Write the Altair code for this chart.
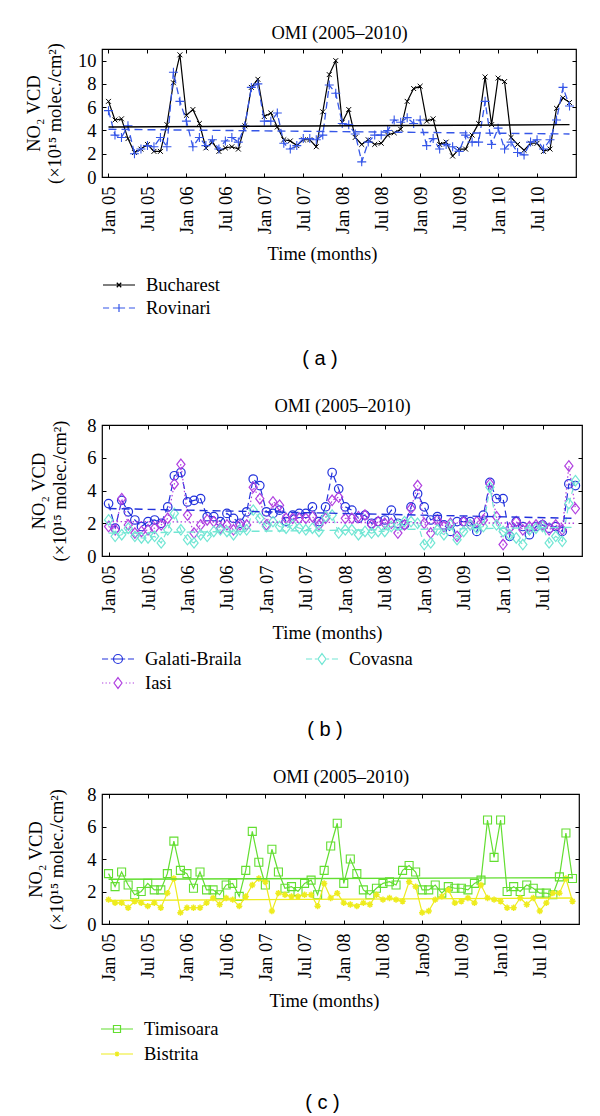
import json
import altair as alt
import pandas as pd

# ---------------- data ----------------
MONTHS = list(range(72))            # Jan 2005 ... Dec 2010
TREND_MONTHS = [0, 71]
XTICKS = [0, 6, 12, 18, 24, 30, 36, 42, 48, 54, 60, 66]
XLABELS_AB = ["Jan 05", "Jul 05", "Jan 06", "Jul 06", "Jan 07", "Jul 07",
              "Jan 08", "Jul 08", "Jan 09", "Jul 09", "Jan 10", "Jul 10"]
XLABELS_C = ["Jan 05", "Jul 05", "Jan 06", "Jul 06", "Jan 07", "Jul 07",
             "Jan 08", "Jul 08", "Jan09", "Jul 09", "Jan10", "Jul 10"]
YTICKS_A = [0, 2, 4, 6, 8, 10]
YTICKS_BC = [0, 2, 4, 6, 8]

TITLE = "OMI (2005–2010)"
XTITLE = "Time (months)"
YTITLE = ["NO₂ VCD", "(×10¹⁵ molec./cm²)"]

BUCHAREST = [6.5, 4.9, 5.0, 3.3, 2.1, 2.4, 2.8, 2.2, 2.2, 4.5, 8.1, 10.5,
             5.3, 5.8, 4.6, 2.5, 3.0, 2.2, 2.5, 2.6, 2.4, 4.4, 7.7, 8.4,
             5.2, 5.5, 4.3, 3.2, 3.1, 2.7, 3.2, 3.2, 2.6, 5.6, 8.8, 10.0,
             4.7, 5.8, 3.4, 2.8, 3.2, 2.8, 2.9, 3.6, 3.8, 4.1, 6.5, 7.6,
             7.8, 4.8, 5.0, 2.8, 3.0, 1.8, 2.4, 2.4, 3.6, 4.6, 8.6, 4.5,
             8.5, 8.2, 3.4, 2.8, 2.3, 2.9, 2.9, 2.2, 2.4, 5.9, 6.8, 6.4]
ROVINARI = [5.7, 3.6, 3.4, 4.4, 2.0, 2.4, 2.7, 2.6, 3.4, 2.6, 9.0, 6.5,
            4.8, 2.6, 3.4, 2.7, 3.2, 2.4, 3.1, 3.4, 3.0, 4.4, 7.7, 8.0,
            4.8, 4.8, 5.5, 2.9, 2.4, 2.7, 3.3, 3.3, 3.2, 3.6, 7.9, 7.2,
            4.6, 4.5, 3.7, 1.3, 3.0, 3.6, 3.6, 4.0, 4.9, 4.7, 5.1, 4.6,
            4.9, 2.7, 3.3, 2.4, 2.8, 2.6, 2.2, 3.6, 3.0, 3.0, 6.5, 2.8,
            4.2, 2.4, 3.0, 2.1, 1.9, 3.0, 3.2, 2.4, 3.2, 4.9, 7.7, 6.1]
GALATI = [3.2, 1.7, 3.4, 2.7, 2.2, 1.8, 2.1, 2.2, 2.0, 3.0, 4.9, 5.1,
          3.3, 3.4, 3.5, 2.4, 2.4, 2.1, 2.6, 2.3, 2.0, 2.7, 4.7, 4.3,
          2.7, 2.6, 2.8, 2.1, 2.5, 2.6, 2.6, 3.0, 2.1, 3.0, 5.1, 4.1,
          3.0, 2.8, 2.3, 2.5, 2.0, 2.1, 2.2, 2.8, 2.0, 1.9, 3.0, 3.8,
          3.0, 2.2, 2.4, 1.9, 1.5, 2.1, 2.1, 2.1, 1.5, 2.5, 4.5, 3.5,
          3.5, 1.2, 2.1, 1.8, 1.3, 1.8, 1.9, 1.7, 1.8, 1.5, 4.4, 4.3]
IASI = [1.8, 1.6, 3.5, 1.9, 1.4, 1.5, 1.6, 1.7, 1.9, 2.3, 4.4, 5.6,
        2.5, 1.4, 1.9, 2.2, 2.1, 1.7, 1.9, 1.6, 1.9, 1.9, 4.2, 3.5,
        1.9, 3.3, 3.1, 2.3, 2.3, 2.3, 2.3, 2.4, 1.9, 2.3, 3.4, 3.6,
        2.3, 2.3, 2.4, 2.5, 1.9, 2.1, 2.0, 2.0, 1.4, 1.9, 2.9, 4.3,
        2.0, 1.4, 2.2, 1.8, 2.0, 1.2, 2.1, 1.9, 2.1, 2.2, 4.4, 2.4,
        0.7, 1.7, 2.1, 1.6, 1.8, 1.9, 1.9, 1.6, 1.9, 1.6, 5.5, 2.9]
COVASNA = [2.2, 1.2, 1.3, 1.7, 1.2, 1.1, 1.1, 1.2, 0.8, 1.6, 2.6, 1.6,
           1.0, 0.8, 1.3, 1.2, 1.5, 1.6, 1.5, 1.3, 1.6, 1.6, 2.8, 2.3,
           1.8, 2.1, 1.8, 1.7, 1.9, 1.7, 1.6, 1.7, 1.5, 2.4, 2.5, 1.4,
           1.6, 1.6, 1.3, 1.5, 1.4, 1.5, 1.5, 1.8, 1.9, 2.1, 2.1, 2.0,
           0.7, 0.8, 1.6, 1.3, 1.9, 1.0, 1.5, 1.9, 1.7, 1.8, 4.2, 1.9,
           1.5, 1.3, 1.1, 0.7, 1.6, 1.7, 1.8, 0.8, 1.2, 0.9, 3.2, 4.6]
TIMISOARA = [3.1, 2.3, 3.2, 2.4, 1.8, 2.0, 2.5, 2.1, 2.1, 3.1, 5.1, 3.3,
             3.1, 2.2, 3.2, 2.1, 2.1, 1.8, 2.4, 2.5, 1.7, 3.3, 5.7, 3.8,
             2.4, 4.6, 3.2, 2.2, 2.3, 2.0, 2.5, 2.7, 1.8, 3.3, 4.8, 6.2,
             2.5, 4.0, 3.1, 2.1, 1.8, 2.2, 2.5, 2.6, 2.4, 3.3, 3.6, 3.2,
             2.1, 2.1, 2.4, 1.9, 2.3, 2.2, 2.2, 2.1, 2.5, 2.7, 6.4, 4.1,
             6.4, 2.0, 2.3, 2.0, 2.4, 2.2, 1.9, 1.9, 1.8, 2.9, 5.6, 2.8]
BISTRITA = [1.5, 1.3, 1.3, 1.0, 1.4, 1.3, 1.1, 1.3, 1.0, 1.9, 2.8, 0.7,
            1.0, 1.0, 1.0, 1.3, 1.6, 1.2, 1.6, 1.5, 1.1, 1.7, 2.4, 2.8,
            2.6, 0.8, 1.9, 1.8, 1.7, 1.7, 1.8, 1.8, 1.1, 2.5, 1.6, 1.9,
            1.3, 1.2, 1.1, 1.3, 1.2, 1.8, 1.5, 1.6, 1.5, 1.4, 2.6, 2.3,
            0.7, 0.8, 1.5, 1.7, 2.1, 1.3, 1.4, 1.6, 1.3, 2.4, 1.6, 1.5,
            1.4, 1.0, 1.0, 1.6, 1.2, 1.6, 0.8, 1.3, 1.9, 1.9, 2.8, 1.4]

BUCHAREST_TREND = [4.3, 4.5]
ROVINARI_TREND = [4.1, 3.7]
GALATI_TREND = [2.9, 2.3]
IASI_TREND = [2.1, 2.0]
COVASNA_TREND = [1.4, 1.75]
TIMISOARA_TREND = [2.75, 2.85]
BISTRITA_TREND = [1.45, 1.6]

# ---------------- styles ----------------
SERIF = "Liberation Serif"
SANS = "Liberation Sans"
FS = 18.5

SHAPE_X = "M-1,-1L1,1M-1,1L1,-1"
SHAPE_PLUS = "M-1,0L1,0M0,-1L0,1"
SHAPE_DIAMOND = "M0,-1L0.78,0L0,1L-0.78,0Z"
SHAPE_STAR = "M-1,0L1,0M0,-1L0,1M-0.7,-0.7L0.7,0.7M-0.7,0.7L0.7,-0.7"

LP_BUCH = "M-1,0H1M-0.14,-0.14L0.14,0.14M-0.14,0.14L0.14,-0.14"
LP_ROV = "M-1,0H-0.62M-0.38,0H0.38M0.62,0H1M0,-0.25V0.25"
LP_GAL = ("M-1,0H-0.62M-0.45,0H0.45M0.62,0H1"
          "M0.28,0A0.28,0.28 0 1,1 -0.28,0A0.28,0.28 0 1,1 0.28,0")
LP_IASI = ("M-1,0H-0.92M-0.78,0H-0.7M-0.56,0H-0.48M0.48,0H0.56M0.7,0H0.78M0.92,0H1"
           "M0,-0.34L0.25,0L0,0.34L-0.25,0Z")
LP_COV = "M-1,0H-0.62M-0.45,0H-0.3M0.3,0H0.45M0.62,0H1M0,-0.34L0.25,0L0,0.34L-0.25,0Z"
LP_TIM = "M-1,0H1M-0.22,-0.22H0.22V0.22H-0.22Z"
LP_BIS = "M-1,0H1M0,-0.15V0.15M-0.11,-0.11L0.11,0.11M-0.11,0.11L0.11,-0.11"

SERIES_A = [
    dict(name="Bucharest", values=BUCHAREST, trend=BUCHAREST_TREND, color="#000000",
         dash=None, tdash=None, marker=SHAPE_X, msize=24, mlw=1, lw=1.2, legend=LP_BUCH),
    dict(name="Rovinari", values=ROVINARI, trend=ROVINARI_TREND, color="#3556e8",
         dash=[7, 4], tdash=[8, 5], marker=SHAPE_PLUS, msize=81, mlw=1.1, lw=1.3, legend=LP_ROV),
]
# legend order (column-major): Galati-Braila, Iasi | Covasna
SERIES_B = [
    dict(name="Galati-Braila", values=GALATI, trend=GALATI_TREND, color="#2232dc",
         dash=[7, 4], tdash=[8, 5], marker="circle", msize=72, mlw=1.2, lw=1.2, legend=LP_GAL),
    dict(name="Iasi", values=IASI, trend=IASI_TREND, color="#b040e0",
         dash=[1.5, 2.5], tdash=[1.5, 2.5], marker=SHAPE_DIAMOND, msize=110, mlw=1.2, lw=1.2, legend=LP_IASI),
    dict(name="Covasna", values=COVASNA, trend=COVASNA_TREND, color="#72e6d4",
         dash=[6, 4], tdash=[8, 5], marker=SHAPE_DIAMOND, msize=110, mlw=1.2, lw=1.2, legend=LP_COV),
]
SERIES_C = [
    dict(name="Timisoara", values=TIMISOARA, trend=TIMISOARA_TREND, color="#62de30",
         dash=None, tdash=None, marker="square", msize=64, mlw=1.1, lw=1.2, legend=LP_TIM),
    dict(name="Bistrita", values=BISTRITA, trend=BISTRITA_TREND, color="#eeec1e",
         dash=None, tdash=None, marker=SHAPE_STAR, msize=40, mlw=1.5, lw=1.2, legend=LP_BIS),
]


def make_panel(series, draw_order, ymax, yticks, xlabels, width, height, left,
               title_gap, legend_x, legend_y, legend_cols, col_pad, row_pad, caption,
               cap_off, cap_dx):
    xscale = alt.Scale(domain=[-1, 72], nice=False, zero=False)
    yscale = alt.Scale(domain=[0, ymax], nice=False, zero=False)
    label_expr = json.dumps(xlabels, ensure_ascii=False) + "[round(datum.value / 6)]"
    common = dict(grid=False, domain=False, offset=-4, tickSize=4,
                  tickColor="black", tickWidth=1)
    txt = dict(titleFont=SERIF, titleFontSize=FS, titleFontWeight="normal",
               titleColor="black")
    x_axis = alt.Axis(orient="bottom", values=XTICKS, labelExpr=label_expr,
                      labelAngle=270, labelAlign="right", labelBaseline="middle",
                      labelPadding=9, labelFont=SERIF, labelFontSize=FS,
                      labelColor="black", labelOverlap=False, labelFlush=False,
                      title=XTITLE, titleX=324 - left, titleY=86,
                      titleBaseline="alphabetic", titleAlign="center", titleAngle=0,
                      **txt, **common)
    y_axis = alt.Axis(orient="left", values=yticks, labelPadding=6, labelFont=SERIF,
                      labelFontSize=FS, labelColor="black", labelFlush=False,
                      title=YTITLE, titleAngle=270, titleAlign="center",
                      titleBaseline="bottom", titleLineHeight=21,
                      titleX=41 - left, titleY=height / 2, **txt, **common)
    top_axis = alt.Axis(orient="top", values=XTICKS, labels=False, title=TITLE,
                        titleX=width / 2, titleY=-(title_gap + 4),
                        titleBaseline="alphabetic", titleAlign="center", titleAngle=0,
                        **txt, **common)
    right_axis = alt.Axis(orient="right", values=yticks, labels=False, title=None,
                          **common)

    X = alt.X("month:Q", scale=xscale, axis=x_axis)
    Y = alt.Y("value:Q", scale=yscale, axis=y_axis)

    data_layers, trend_layers = [], []
    for idx in draw_order:
        s = series[idx]
        df = pd.DataFrame({"month": MONTHS, "value": s["values"]})
        tdf = pd.DataFrame({"month": TREND_MONTHS, "value": s["trend"]})
        lkw = dict(color=s["color"], strokeWidth=s["lw"])
        if s["dash"]:
            lkw["strokeDash"] = s["dash"]
        tkw = dict(color=s["color"], strokeWidth=1.4)
        if s["tdash"]:
            tkw["strokeDash"] = s["tdash"]
        data_layers.append(alt.Chart(df).mark_line(**lkw).encode(x=X, y=Y))
        data_layers.append(
            alt.Chart(df).mark_point(shape=s["marker"], size=s["msize"], filled=False,
                                     color=s["color"], strokeWidth=s["mlw"], opacity=1)
            .encode(x=X, y=Y))
        trend_layers.append(alt.Chart(tdf).mark_line(**tkw).encode(x=X, y=Y))

    names = [s["name"] for s in series]
    leg_df = pd.DataFrame({"series": names,
                           "month": [MONTHS[0]] * len(series),
                           "value": [s["values"][0] for s in series]})
    legend = alt.Legend(orient="none", legendX=legend_x, legendY=legend_y, title=None,
                        direction="vertical", columns=legend_cols, clipHeight=22,
                        columnPadding=col_pad, rowPadding=row_pad, labelOffset=10,
                        labelFont=SERIF, labelFontSize=FS, labelColor="black",
                        labelLimit=400, symbolSize=1024, symbolStrokeWidth=1.2,
                        symbolOpacity=1, padding=0)
    legend_layer = alt.Chart(leg_df).mark_point(opacity=0, filled=False, size=1024).encode(
        x=X, y=Y,
        shape=alt.Shape("series:N", scale=alt.Scale(domain=names,
                                                     range=[s["legend"] for s in series]),
                        legend=legend),
        stroke=alt.Stroke("series:N", scale=alt.Scale(domain=names,
                                                       range=[s["color"] for s in series]),
                          legend=legend),
    )

    inner = alt.layer(*data_layers, *trend_layers, legend_layer)
    first = series[0]
    axis_layer = alt.Chart(pd.DataFrame({"month": MONTHS, "value": first["values"]})).mark_line(
        opacity=0).encode(
        x=alt.X("month:Q", scale=xscale, axis=top_axis),
        y=alt.Y("value:Q", scale=yscale, axis=right_axis),
    )
    return alt.layer(inner, axis_layer).resolve_axis(
        x="independent", y="independent"
    ).properties(
        width=width, height=height,
        title=alt.TitleParams(caption, orient="bottom", anchor="middle", frame="group",
                              font=SANS, fontSize=20, fontWeight="normal", color="black",
                              baseline="alphabetic", offset=cap_off, dx=cap_dx),
    )


pa = make_panel(SERIES_A, [0, 1], 11, YTICKS_A, XLABELS_AB, 474, 128, 104, 10.7,
                0, 225, 1, 20, 1, "( a )", 46, -19)
pb = make_panel(SERIES_B, [0, 1, 2], 8, YTICKS_BC, XLABELS_AB, 480, 131, 99, 13.3,
                -1, 223, 2, 63, 2, "( b )", 42, -17)
pc = make_panel(SERIES_C, [0, 1], 8, YTICKS_BC, XLABELS_C, 477, 130, 102, 11.3,
                -2, 224, 1, 20, 3, "( c )", 44, -18)

chart = alt.vconcat(pa, pb, pc, spacing=26).resolve_scale(
    x="independent", y="independent", shape="independent", stroke="independent"
).properties(
    padding={"left": 15, "top": 14, "right": 0, "bottom": 0},
    background="white",
).configure_view(stroke="black", strokeWidth=1.2)

chart.save("out.html", embed_options={"renderer": "svg", "actions": False})
